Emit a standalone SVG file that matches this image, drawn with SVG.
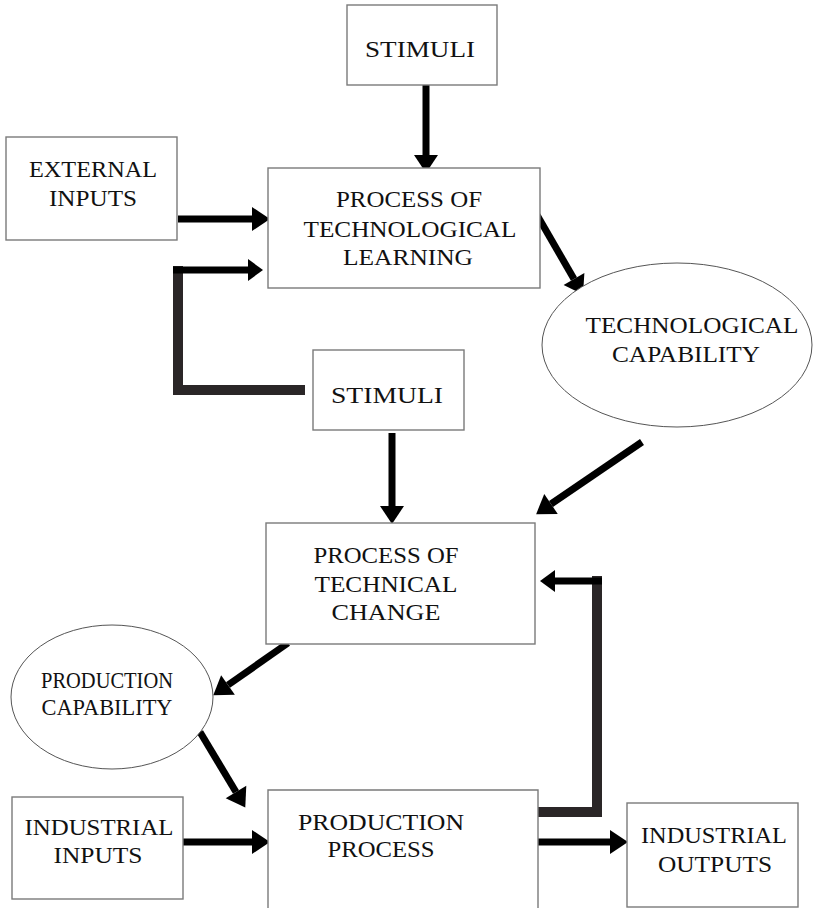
<svg xmlns="http://www.w3.org/2000/svg" width="813" height="908" viewBox="0 0 813 908">
<style>
.box{fill:#fff;stroke:#7a7a7a;stroke-width:1.4}
.ell{fill:#fff;stroke:#555;stroke-width:1}
.t{font-family:"Liberation Serif","Times New Roman",serif;font-size:24px;fill:#111;text-anchor:middle}
.a{fill:none;stroke:#000;stroke-width:7}
.fb{fill:none;stroke:#2a2627;stroke-width:10;stroke-linejoin:miter}
</style>
<defs>
<marker id="ah" markerUnits="userSpaceOnUse" markerWidth="20" markerHeight="26" refX="0" refY="12" orient="auto" overflow="visible">
<path d="M0,0 L18,12 L0,24 z" fill="#000"/>
</marker>
<marker id="ahs" markerUnits="userSpaceOnUse" markerWidth="18" markerHeight="24" refX="0" refY="11" orient="auto" overflow="visible">
<path d="M0,0 L15,11 L0,22 z" fill="#000"/>
</marker>
</defs>
<rect width="813" height="908" fill="#fff"/>

<g id="connectors">
<line class="a" x1="426" y1="83" x2="426" y2="155" marker-end="url(#ah)"/>
<line class="a" stroke-width="8" x1="178" y1="219" x2="252" y2="219" marker-end="url(#ah)"/>
<path class="fb" d="M305,390 H178 V266"/>
<line class="a" stroke-width="6" x1="173" y1="270" x2="248" y2="270" marker-end="url(#ahs)"/>
<line class="a" x1="537" y1="215" x2="574" y2="279" marker-end="url(#ah)"/>
<line class="a" x1="392" y1="433" x2="392" y2="506" marker-end="url(#ah)"/>
<line class="a" x1="642" y1="442" x2="551" y2="504" marker-end="url(#ah)"/>
<line class="a" x1="288" y1="643" x2="228" y2="685" marker-end="url(#ah)"/>
<line class="a" x1="200" y1="732" x2="236" y2="792" marker-end="url(#ah)"/>
<line class="a" stroke-width="8" x1="180" y1="842" x2="252" y2="842" marker-end="url(#ah)"/>
<line class="a" stroke-width="8" x1="538" y1="842" x2="610" y2="842" marker-end="url(#ah)"/>
<path class="fb" d="M538,812 H597 V576"/>
<line class="a" x1="602" y1="581" x2="555" y2="581" marker-end="url(#ahs)"/>
</g>

<g id="stimuli-top">
<rect class="box" x="347" y="5" width="150" height="80"/>
<text class="t" x="420" y="57" textLength="110" lengthAdjust="spacingAndGlyphs">STIMULI</text>
</g>

<g id="external-inputs">
<rect class="box" x="6" y="137" width="171" height="103"/>
<text class="t" x="93" y="177" textLength="128" lengthAdjust="spacingAndGlyphs">EXTERNAL</text>
<text class="t" x="93" y="206" textLength="88" lengthAdjust="spacingAndGlyphs">INPUTS</text>
</g>

<g id="process-technological-learning">
<rect class="box" x="268" y="168" width="272" height="120"/>
<text class="t" x="409" y="207" textLength="146" lengthAdjust="spacingAndGlyphs">PROCESS OF</text>
<text class="t" x="410" y="237" textLength="213" lengthAdjust="spacingAndGlyphs">TECHNOLOGICAL</text>
<text class="t" x="408" y="265" textLength="130" lengthAdjust="spacingAndGlyphs">LEARNING</text>
</g>

<g id="technological-capability">
<ellipse class="ell" cx="677" cy="345" rx="135" ry="82"/>
<text class="t" x="692" y="333" textLength="213" lengthAdjust="spacingAndGlyphs">TECHNOLOGICAL</text>
<text class="t" x="686" y="362" textLength="148" lengthAdjust="spacingAndGlyphs">CAPABILITY</text>
</g>

<g id="stimuli-mid">
<rect class="box" x="313" y="350" width="151" height="80"/>
<text class="t" x="387" y="403" textLength="112" lengthAdjust="spacingAndGlyphs">STIMULI</text>
</g>

<g id="process-technical-change">
<rect class="box" x="266" y="523" width="269" height="121"/>
<text class="t" x="386" y="563" textLength="145" lengthAdjust="spacingAndGlyphs">PROCESS OF</text>
<text class="t" x="386" y="592" textLength="143" lengthAdjust="spacingAndGlyphs">TECHNICAL</text>
<text class="t" x="386" y="620" textLength="109" lengthAdjust="spacingAndGlyphs">CHANGE</text>
</g>

<g id="production-capability">
<ellipse class="ell" cx="112" cy="697" rx="101" ry="72"/>
<text class="t" x="107" y="688" textLength="132" lengthAdjust="spacingAndGlyphs">PRODUCTION</text>
<text class="t" x="107" y="715" textLength="131" lengthAdjust="spacingAndGlyphs">CAPABILITY</text>
</g>

<g id="industrial-inputs">
<rect class="box" x="12" y="797" width="171" height="102"/>
<text class="t" x="99" y="835" textLength="149" lengthAdjust="spacingAndGlyphs">INDUSTRIAL</text>
<text class="t" x="98" y="863" textLength="89" lengthAdjust="spacingAndGlyphs">INPUTS</text>
</g>

<g id="production-process">
<path class="box" d="M268,912 V790 H538 V912"/>
<text class="t" x="381" y="830" textLength="166" lengthAdjust="spacingAndGlyphs">PRODUCTION</text>
<text class="t" x="381" y="857" textLength="107" lengthAdjust="spacingAndGlyphs">PROCESS</text>
</g>

<g id="industrial-outputs">
<rect class="box" x="627" y="803" width="171" height="104"/>
<text class="t" x="714" y="843" textLength="146" lengthAdjust="spacingAndGlyphs">INDUSTRIAL</text>
<text class="t" x="715" y="872" textLength="114" lengthAdjust="spacingAndGlyphs">OUTPUTS</text>
</g>
</svg>
